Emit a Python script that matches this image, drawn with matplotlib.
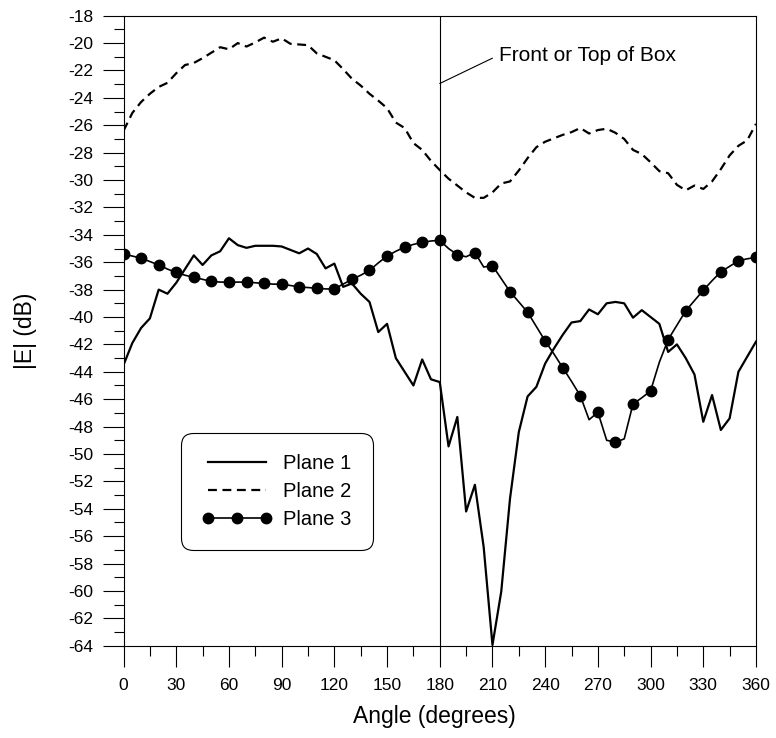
import numpy as np
import matplotlib
matplotlib.use("Agg")
import matplotlib.pyplot as plt
from matplotlib.ticker import MultipleLocator

plt.rcParams['font.family'] = ['Liberation Sans', 'DejaVu Sans']
plt.rcParams['axes.unicode_minus'] = False

# angles every 5 degrees
angles = np.arange(0, 361, 5)

plane1 = [-43.5, -41.9, -40.8, -40.1, -38.0, -38.3, -37.5, -36.5, -35.5, -36.2,
          -35.5, -35.2, -34.25, -34.75, -34.95, -34.8, -34.8, -34.8, -34.85, -35.1,
          -35.35, -35.0, -35.4, -36.45, -36.1, -37.8, -37.55, -38.3, -38.9, -41.1,
          -40.5, -43.0, -44.0, -45.0, -43.1, -44.55, -44.75, -49.45, -47.3, -54.2,
          -52.25, -56.8, -63.95, -60.05, -53.25, -48.4, -45.8, -45.1, -43.4, -42.3,
          -41.3, -40.4, -40.3, -39.45, -39.8, -39.0, -38.9, -39.0, -40.05, -39.5,
          -40.0, -40.5, -42.55, -42.0, -43.0, -44.2, -47.65, -45.7, -48.25, -47.4,
          -44.0, -42.9, -41.8]

plane2 = [-26.4, -25.1, -24.3, -23.7, -23.2, -22.9, -22.2, -21.6, -21.45, -21.1,
          -20.7, -20.3, -20.45, -20.0, -20.25, -19.95, -19.6, -19.9, -19.65, -20.05,
          -20.1, -20.15, -20.75, -21.0, -21.25, -21.9, -22.6, -23.1, -23.7, -24.2,
          -24.75, -25.8, -26.2, -27.3, -27.8, -28.6, -29.27, -29.9, -30.4, -30.9,
          -31.3, -31.3, -30.9, -30.25, -30.1, -29.3, -28.4, -27.6, -27.2, -26.95,
          -26.7, -26.5, -26.2, -26.6, -26.35, -26.25, -26.55, -27.0, -27.8, -28.1,
          -28.7, -29.35, -29.5, -30.35, -30.75, -30.4, -30.65, -30.1, -29.2, -28.2,
          -27.5, -27.1, -25.9]

plane3 = [-35.4, -35.55, -35.7, -35.95, -36.2, -36.5, -36.75, -36.95, -37.1, -37.25,
          -37.4, -37.45, -37.45, -37.45, -37.45, -37.5, -37.55, -37.6, -37.6, -37.7,
          -37.8, -37.85, -37.9, -37.95, -37.95, -37.6, -37.25, -36.95, -36.6, -36.05,
          -35.55, -35.2, -34.9, -34.7, -34.55, -34.45, -34.4, -35.0, -35.45, -35.6,
          -35.3, -36.35, -36.25, -37.2, -38.15, -38.9, -39.65, -40.7, -41.75, -42.7,
          -43.7, -44.7, -45.75, -47.5, -46.95, -49.0, -49.15, -48.9, -46.35, -45.9,
          -45.4, -43.3, -41.65, -40.6, -39.55, -38.8, -38.05, -37.35, -36.7, -36.3,
          -35.9, -35.75, -35.65]

fig = plt.figure(figsize=(7.76, 7.38), dpi=100)
ax = fig.add_axes([0.1592, 0.1251, 0.8150, 0.8536])

ax.plot(angles, plane1, color="black", lw=1.6, label="Plane 1")
ax.plot(angles, plane2, color="black", lw=1.6, linestyle=(0, (4, 2.5)), label="Plane 2")
ax.plot(angles, plane3, color="black", lw=1.2, marker="o", markersize=7.5,
        markevery=2, label="Plane 3")

ax.axvline(180, color="black", lw=0.8)
ax.annotate("Front or Top of Box", xy=(180, -22.95), xytext=(213.7, -20.87),
            fontsize=15, va="center", ha="left",
            arrowprops=dict(arrowstyle="-", color="black", lw=0.8,
                            relpos=(0, 0.5), shrinkA=3, shrinkB=0))

ax.set_xlim(0, 360)
ax.set_ylim(-64, -18)
ax.xaxis.set_major_locator(MultipleLocator(30))
ax.xaxis.set_minor_locator(MultipleLocator(15))
ax.yaxis.set_major_locator(MultipleLocator(2))
ax.yaxis.set_minor_locator(MultipleLocator(1))
ax.tick_params(which="major", direction="out", length=15, width=0.8, labelsize=12.5)
ax.tick_params(which="minor", direction="out", length=7.5, width=0.8)
ax.tick_params(axis="x", which="major", pad=8)
ax.tick_params(axis="y", which="major", pad=6.5)
for sp in ax.spines.values():
    sp.set_linewidth(0.8)

ax.set_xlabel("Angle (degrees)", fontsize=16.5)
ax.set_ylabel("|E| (dB)", fontsize=16.5)
ax.xaxis.set_label_coords(0.491, -0.094)
ax.yaxis.set_label_coords(-0.137, 0.5)

leg = ax.legend(loc="upper left", bbox_to_anchor=(0.0909, 0.3376), borderaxespad=0,
                fontsize=14.5, numpoints=3, handlelength=3.45, handletextpad=0.58,
                labelspacing=0.45, borderpad=1.05, framealpha=1, edgecolor="black")
leg.get_frame().set_boxstyle("round,pad=0,rounding_size=0.6")
leg.get_frame().set_linewidth(0.8)

fig.savefig("out.png", dpi=100)
